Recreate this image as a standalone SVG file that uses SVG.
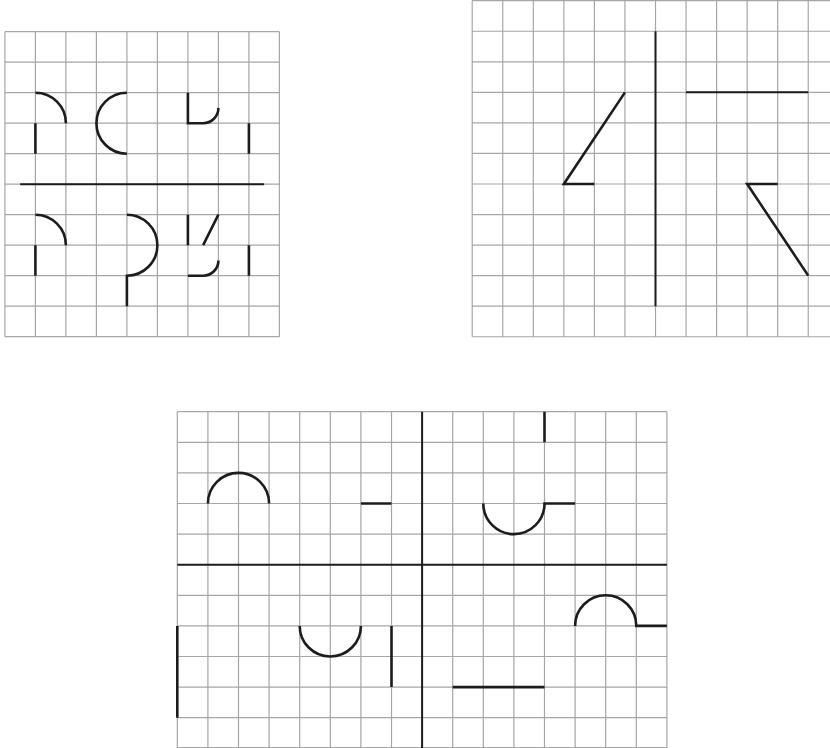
<svg xmlns="http://www.w3.org/2000/svg" width="830" height="748" viewBox="0 0 830 748">
<style>
.grid{fill:none;stroke:#a6a6a6;stroke-width:1.2}
.ink{fill:none;stroke:#1c1c1c;stroke-width:2.6;stroke-linecap:butt;stroke-linejoin:miter}
.axis{fill:none;stroke:#1c1c1c;stroke-width:2}
</style>
<rect width="830" height="748" fill="#fff"/>
<g id="panel1">
<path class="grid" d="M4.9 31.7V336.7M35.4 31.7V336.7M65.9 31.7V336.7M96.4 31.7V336.7M126.9 31.7V336.7M157.4 31.7V336.7M187.9 31.7V336.7M218.4 31.7V336.7M248.9 31.7V336.7M279.4 31.7V336.7M4.9 31.7H279.4M4.9 62.2H279.4M4.9 92.7H279.4M4.9 123.2H279.4M4.9 153.7H279.4M4.9 184.2H279.4M4.9 214.7H279.4M4.9 245.2H279.4M4.9 275.7H279.4M4.9 306.2H279.4M4.9 336.7H279.4"/>
<path class="axis" d="M20.2 184.2H264.1"/>
<path class="ink" d="M35.4 92.7A30.5 30.5 0 0 1 65.9 123.2M35.4 123.2V153.7M126.9 92.7A30.5 30.5 0 0 0 126.9 153.7M187.9 92.7V123.2H203.15A15.25 15.25 0 0 0 218.4 107.95M248.9 123.2V153.7"/>
<path class="ink" d="M35.4 214.7A30.5 30.5 0 0 1 65.9 245.2M35.4 245.2V275.7M126.9 214.7A30.5 30.5 0 0 1 126.9 275.7V306.2M187.9 214.7V245.2M218.4 214.7L203.15 245.2M187.9 275.7H203.15A15.25 15.25 0 0 0 218.4 260.45M248.9 245.2V275.7"/>
</g>
<g id="panel2">
<path class="grid" d="M472.2 0.7V336.75M502.75 0.7V336.75M533.3 0.7V336.75M563.85 0.7V336.75M594.4 0.7V336.75M624.95 0.7V336.75M655.5 0.7V336.75M686.05 0.7V336.75M716.6 0.7V336.75M747.15 0.7V336.75M777.7 0.7V336.75M808.25 0.7V336.75M472.2 0.7H830M472.2 31.25H830M472.2 61.8H830M472.2 92.35H830M472.2 122.9H830M472.2 153.45H830M472.2 184H830M472.2 214.55H830M472.2 245.1H830M472.2 275.65H830M472.2 306.2H830M472.2 336.75H830"/>
<path class="axis" d="M655.5 31.25V306.2M686.05 92.35H808.25"/>
<path class="ink" d="M624.95 92.35L563.85 184H594.4M777.7 184H747.15L808.25 275.65"/>
</g>
<g id="panel3">
<path class="grid" d="M177.3 411.7V748.3M207.9 411.7V748.3M238.5 411.7V748.3M269.1 411.7V748.3M299.7 411.7V748.3M330.3 411.7V748.3M360.9 411.7V748.3M391.5 411.7V748.3M452.7 411.7V748.3M483.3 411.7V748.3M513.9 411.7V748.3M544.5 411.7V748.3M575.1 411.7V748.3M605.7 411.7V748.3M636.3 411.7V748.3M666.9 411.7V748.3M177.3 411.7H666.9M177.3 442.3H666.9M177.3 472.9H666.9M177.3 503.5H666.9M177.3 534.1H666.9M177.3 595.3H666.9M177.3 625.9H666.9M177.3 656.5H666.9M177.3 687.1H666.9M177.3 717.7H666.9M177.3 747.6H666.9"/>
<path class="axis" d="M177.3 564.7H666.9M422.1 411.7V748.3"/>
<path class="ink" d="M207.9 503.5A30.6 30.6 0 0 1 269.1 503.5M360.9 503.5H391.5M544.5 411.7V442.3M483.3 503.5A30.6 30.6 0 0 0 544.5 503.5H575.1"/>
<path class="ink" d="M177.3 625.9V717.7M299.7 625.9A30.6 30.6 0 0 0 360.9 625.9M391.5 625.9V687.1M575.1 625.9A30.6 30.6 0 0 1 636.3 625.9H666.9M452.7 687.1H544.5"/>
</g>
</svg>
